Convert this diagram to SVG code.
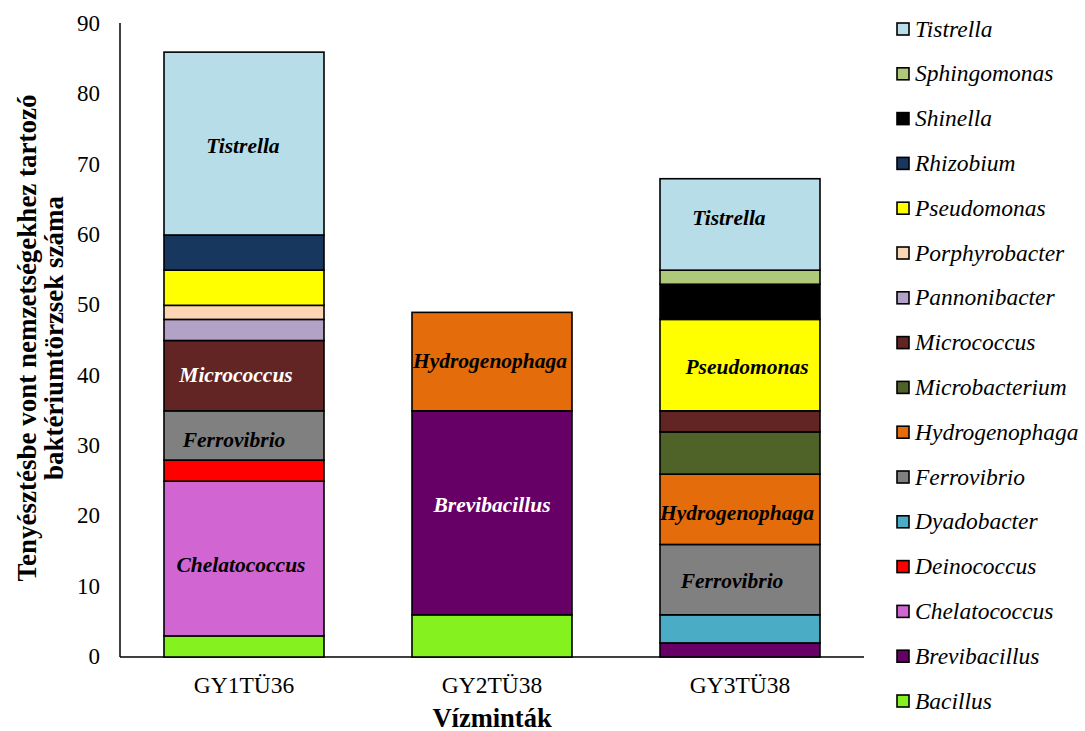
<svg xmlns="http://www.w3.org/2000/svg" width="1085" height="731" viewBox="0 0 1085 731">
<style>
.tick{font-size:23px;text-anchor:end}
.cat{font-size:23.5px;text-anchor:middle}
.ttl{font-size:26.5px;font-weight:bold;text-anchor:middle}
.ytl{font-size:27px;font-weight:bold;text-anchor:middle}
.lg{font-size:23.5px;font-style:italic}
.bl{font-size:21.5px;font-style:italic;font-weight:bold;text-anchor:middle}
.seg{stroke:#000;stroke-width:1.6}
.sw{stroke:#000;stroke-width:1.6}
.ax{stroke:#000;stroke-width:1.5;fill:none}
.c-tis{fill:#B7DDE8}.c-sph{fill:#AFC97B}.c-shi{fill:#000}.c-rhi{fill:#17375E}.c-pse{fill:#FFFF00}
.c-por{fill:#FCD5B5}.c-pan{fill:#B3A2C7}.c-mcc{fill:#632523}.c-mba{fill:#4F6228}.c-hyd{fill:#E46C0A}
.c-fer{fill:#808080}.c-dya{fill:#4BACC6}.c-dei{fill:#FF0000}.c-che{fill:#D166D2}.c-bre{fill:#660066}.c-bac{fill:#85F21F}
</style>
<rect width="1085" height="731" fill="#fff"/>
<g font-family="'Liberation Serif', serif" fill="#000">
<g id="axes">
<line class="ax" x1="120" y1="23" x2="120" y2="657"/>
<line class="ax" x1="120" y1="657" x2="864" y2="657"/>
<text class="tick" x="100" y="664">0</text>
<text class="tick" x="100" y="594">10</text>
<text class="tick" x="100" y="523">20</text>
<text class="tick" x="100" y="453">30</text>
<text class="tick" x="100" y="383">40</text>
<text class="tick" x="100" y="312">50</text>
<text class="tick" x="100" y="242">60</text>
<text class="tick" x="100" y="172">70</text>
<text class="tick" x="100" y="101">80</text>
<text class="tick" x="100" y="31">90</text>
<text class="cat" x="244" y="693">GY1TÜ36</text>
<text class="cat" x="492" y="693">GY2TÜ38</text>
<text class="cat" x="740" y="693">GY3TÜ38</text>
<text class="ttl" x="492" y="727">Vízminták</text>
<text class="ytl" transform="translate(36,338) rotate(-90)">Tenyésztésbe vont nemzetségekhez tartozó</text>
<text class="ytl" transform="translate(63,338) rotate(-90)">baktériumtörzsek száma</text>
</g>
<g id="bar-GY1TU36">
<rect class="seg c-bac" x="164" y="635.9" width="160" height="21.1"/>
<rect class="seg c-che" x="164" y="481.17" width="160" height="154.73"/>
<rect class="seg c-dei" x="164" y="460.07" width="160" height="21.1"/>
<rect class="seg c-fer" x="164" y="410.83" width="160" height="49.24"/>
<rect class="seg c-mcc" x="164" y="340.5" width="160" height="70.33"/>
<rect class="seg c-pan" x="164" y="319.4" width="160" height="21.1"/>
<rect class="seg c-por" x="164" y="305.33" width="160" height="14.07"/>
<rect class="seg c-pse" x="164" y="270.17" width="160" height="35.16"/>
<rect class="seg c-rhi" x="164" y="235" width="160" height="35.17"/>
<rect class="seg c-tis" x="164" y="52.13" width="160" height="182.87"/>
<text class="bl" x="243" y="153">Tistrella</text>
<text class="bl" x="236" y="382" fill="#fff">Micrococcus</text>
<text class="bl" x="234" y="447">Ferrovibrio</text>
<text class="bl" x="241" y="572">Chelatococcus</text>
</g>
<g id="bar-GY2TU38">
<rect class="seg c-bac" x="412" y="614.8" width="160" height="42.2"/>
<rect class="seg c-bre" x="412" y="410.83" width="160" height="203.97"/>
<rect class="seg c-hyd" x="412" y="312.37" width="160" height="98.46"/>
<text class="bl" x="490" y="368">Hydrogenophaga</text>
<text class="bl" x="492" y="512" fill="#fff">Brevibacillus</text>
</g>
<g id="bar-GY3TU38">
<rect class="seg c-bre" x="660" y="642.93" width="160" height="14.07"/>
<rect class="seg c-dya" x="660" y="614.8" width="160" height="28.13"/>
<rect class="seg c-fer" x="660" y="544.47" width="160" height="70.33"/>
<rect class="seg c-hyd" x="660" y="474.13" width="160" height="70.34"/>
<rect class="seg c-mba" x="660" y="431.93" width="160" height="42.2"/>
<rect class="seg c-mcc" x="660" y="410.83" width="160" height="21.1"/>
<rect class="seg c-pse" x="660" y="319.4" width="160" height="91.43"/>
<rect class="seg c-shi" x="660" y="284.23" width="160" height="35.17"/>
<rect class="seg c-sph" x="660" y="270.17" width="160" height="14.06"/>
<rect class="seg c-tis" x="660" y="178.73" width="160" height="91.44"/>
<text class="bl" x="729" y="225">Tistrella</text>
<text class="bl" x="747" y="374">Pseudomonas</text>
<text class="bl" x="737" y="520">Hydrogenophaga</text>
<text class="bl" x="732" y="588">Ferrovibrio</text>
</g>
<g id="legend">
<g id="lg-tis"><rect class="sw c-tis" x="897" y="23" width="12" height="12"/><text class="lg" x="915" y="36.5">Tistrella</text></g>
<g id="lg-sph"><rect class="sw c-sph" x="897" y="67.8" width="12" height="12"/><text class="lg" x="915" y="81.3">Sphingomonas</text></g>
<g id="lg-shi"><rect class="sw c-shi" x="897" y="112.6" width="12" height="12"/><text class="lg" x="915" y="126.1">Shinella</text></g>
<g id="lg-rhi"><rect class="sw c-rhi" x="897" y="157.4" width="12" height="12"/><text class="lg" x="915" y="170.9">Rhizobium</text></g>
<g id="lg-pse"><rect class="sw c-pse" x="897" y="202.2" width="12" height="12"/><text class="lg" x="915" y="215.7">Pseudomonas</text></g>
<g id="lg-por"><rect class="sw c-por" x="897" y="247" width="12" height="12"/><text class="lg" x="915" y="260.5">Porphyrobacter</text></g>
<g id="lg-pan"><rect class="sw c-pan" x="897" y="291.8" width="12" height="12"/><text class="lg" x="915" y="305.3">Pannonibacter</text></g>
<g id="lg-mcc"><rect class="sw c-mcc" x="897" y="336.6" width="12" height="12"/><text class="lg" x="915" y="350.1">Micrococcus</text></g>
<g id="lg-mba"><rect class="sw c-mba" x="897" y="381.4" width="12" height="12"/><text class="lg" x="915" y="394.9">Microbacterium</text></g>
<g id="lg-hyd"><rect class="sw c-hyd" x="897" y="426.2" width="12" height="12"/><text class="lg" x="915" y="439.7">Hydrogenophaga</text></g>
<g id="lg-fer"><rect class="sw c-fer" x="897" y="471" width="12" height="12"/><text class="lg" x="915" y="484.5">Ferrovibrio</text></g>
<g id="lg-dya"><rect class="sw c-dya" x="897" y="515.8" width="12" height="12"/><text class="lg" x="915" y="529.3">Dyadobacter</text></g>
<g id="lg-dei"><rect class="sw c-dei" x="897" y="560.6" width="12" height="12"/><text class="lg" x="915" y="574.1">Deinococcus</text></g>
<g id="lg-che"><rect class="sw c-che" x="897" y="605.4" width="12" height="12"/><text class="lg" x="915" y="618.9">Chelatococcus</text></g>
<g id="lg-bre"><rect class="sw c-bre" x="897" y="650.2" width="12" height="12"/><text class="lg" x="915" y="663.7">Brevibacillus</text></g>
<g id="lg-bac"><rect class="sw c-bac" x="897" y="695" width="12" height="12"/><text class="lg" x="915" y="708.5">Bacillus</text></g>
</g>
</g>
</svg>
